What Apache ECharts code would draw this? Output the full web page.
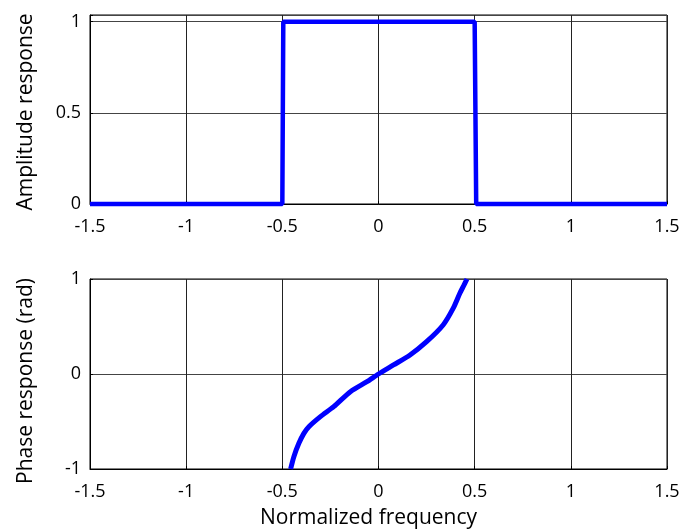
<!DOCTYPE html>
<html><head><meta charset="utf-8">
<script src="https://cdn.jsdelivr.net/npm/echarts@6/dist/echarts.min.js"></script>
<style>html,body{margin:0;padding:0;background:#fff}#c{width:695px;height:531px}</style>
</head><body><div id="c"></div>
<script>
// Amplitude response (ideal band-pass step)
const ampX = [-1.5, -0.5, -0.495, 0.5, 0.508, 1.5];
const ampY = [0, 0, 1, 1, 0, 0];
// Phase response (rad)
const phaseX = [-0.457, -0.44, -0.414, -0.388, -0.362, -0.302, -0.233, -0.146, -0.06, 0, 0.078, 0.164, 0.25, 0.336, 0.388, 0.423, 0.443, 0.46];
const phaseY = [-1.0, -0.87, -0.73, -0.625, -0.555, -0.449, -0.344, -0.186, -0.081, 0, 0.095, 0.2, 0.34, 0.516, 0.69, 0.85, 0.93, 1.0];
const xTicks = [-1.5, -1, -0.5, 0, 0.5, 1, 1.5];

const FONT = 'Open Sans';
const TICK = 18, NAME = 21;
const fmt = step => v => (Math.abs(v / step - Math.round(v / step)) < 1e-6 ? String(+v.toFixed(2)) : '');
const xAxisBase = {
  type: 'value', min: -1.5, max: 1.5, interval: 0.5,
  axisLine: {show: true, onZero: false, lineStyle: {color: '#000', width: 1}},
  axisTick: {show: true, inside: true, length: 3, lineStyle: {color: '#000'}},
  axisLabel: {color: '#000', fontFamily: FONT, fontSize: TICK, margin: 14, formatter: fmt(0.5)},
  splitLine: {show: true, lineStyle: {color: '#222', width: 1}}
};
const yAxisBase = {
  type: 'value',
  axisLine: {show: true, onZero: false, lineStyle: {color: '#000', width: 1}},
  axisTick: {show: true, inside: true, length: 3, lineStyle: {color: '#000'}},
  nameLocation: 'middle', nameGap: 53,
  splitLine: {show: true, lineStyle: {color: '#444', width: 1}}
};
const chart = echarts.init(document.getElementById('c'), null, {renderer: 'canvas'});
chart.setOption({
  backgroundColor: '#fff',
  animation: false,
  grid: [
    {left: 90, top: 15, width: 577, height: 189, show: true, borderColor: '#000', borderWidth: 1},
    {left: 90, top: 279, width: 577, height: 190, show: true, borderColor: '#000', borderWidth: 1}
  ],
  xAxis: [
    Object.assign({}, xAxisBase, {gridIndex: 0}),
    Object.assign({}, xAxisBase, {gridIndex: 1, name: 'Normalized frequency', nameLocation: 'middle', nameGap: 39,
      nameTextStyle: {color: '#000', fontFamily: FONT, fontSize: NAME, padding: [0, 20, 0, 0]}})
  ],
  yAxis: [
    Object.assign({}, yAxisBase, {gridIndex: 0, min: 0, max: 1.037, interval: 0.5, name: 'Amplitude response',
      nameTextStyle: {color: '#000', fontFamily: FONT, fontSize: NAME, padding: [0, 5, 0, 0]},
      axisLabel: {color: '#000', fontFamily: FONT, fontSize: TICK, margin: 9, formatter: fmt(0.5)}}),
    Object.assign({}, yAxisBase, {gridIndex: 1, min: -1, max: 1, interval: 1, name: 'Phase response (rad)',
      nameTextStyle: {color: '#000', fontFamily: FONT, fontSize: NAME, padding: [0, 14, 0, 0]},
      axisLabel: {color: '#000', fontFamily: FONT, fontSize: TICK, margin: 9, formatter: fmt(1)}})
  ],
  series: [
    {type: 'line', xAxisIndex: 0, yAxisIndex: 0, data: ampX.map((x, i) => [x, ampY[i]]),
      showSymbol: false, clip: false, lineStyle: {color: '#0000ff', width: 4.5}},
    {type: 'line', xAxisIndex: 1, yAxisIndex: 1, data: phaseX.map((x, i) => [x, phaseY[i]]),
      showSymbol: false, smooth: 0.25, clip: false, lineStyle: {color: '#0000ff', width: 5}}
  ]
});
</script></body></html>
